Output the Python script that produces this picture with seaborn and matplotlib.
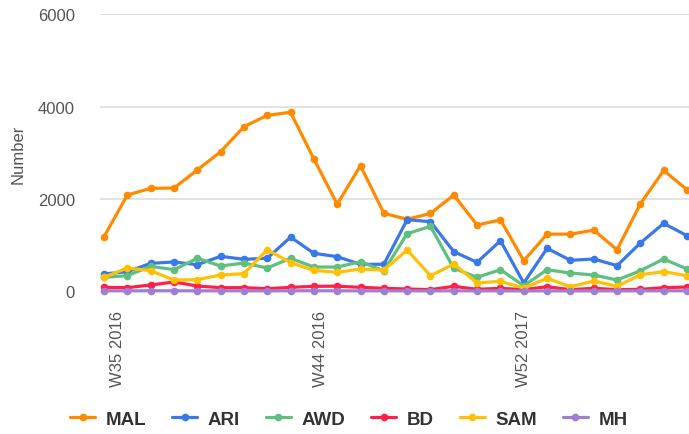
import numpy as np
import pandas as pd
import matplotlib
matplotlib.use("Agg")
import matplotlib.pyplot as plt
import seaborn as sns

# weekly points (Sundays), Aug 2016 - Feb 2017
weeks = pd.date_range("2016-08-28", periods=26, freq="7D")

mal = [1186, 2089, 2234, 2241, 2630, 3027, 3568, 3815, 3880, 2869, 1890, 2724, 1693,
       1565, 1690, 2089, 1438, 1552, 668, 1242, 1242, 1328, 905, 1898, 2620, 2204]
ari = [379, 429, 610, 639, 580, 762, 697, 719, 1178, 827, 754, 589, 589,
       1555, 1512, 862, 632, 1100, 184, 935, 675, 704, 559, 1050, 1476, 1208]
awd = [307, 342, 545, 472, 719, 552, 617, 509, 718, 530, 530, 646, 444,
       1252, 1411, 502, 307, 472, 126, 472, 400, 357, 249, 450, 704, 487]
bd = [90, 83, 141, 206, 119, 83, 83, 61, 90, 112, 115, 90, 69,
      54, 40, 112, 47, 69, 40, 104, 40, 69, 40, 47, 83, 97]
sam = [307, 509, 450, 249, 256, 357, 386, 905, 625, 458, 415, 487, 465,
       898, 342, 595, 184, 220, 76, 285, 104, 227, 112, 364, 429, 342]
mh = [15, 14, 16, 15, 14, 15, 15, 14, 15, 16, 15, 14, 15,
      14, 13, 15, 14, 14, 12, 14, 13, 14, 13, 14, 15, 15]

series = ["MAL", "ARI", "AWD", "BD", "SAM", "MH"]
colors = ["#ff8a00", "#3b78e7", "#5fbf7f", "#ff1f48", "#ffc107", "#a07ed1"]

tick_dates = pd.to_datetime(["2016-09-01", "2016-11-01", "2017-01-01"])
tick_labels = ["W35 2016", "W44 2016", "W52 2017"]

df = pd.DataFrame({"week": weeks, "MAL": mal, "ARI": ari, "AWD": awd,
                   "BD": bd, "SAM": sam, "MH": mh})
long = df.melt(id_vars="week", var_name="series", value_name="Number")

sns.set_style("white")
plt.rcParams["font.family"] = ["Liberation Sans", "DejaVu Sans"]

fig = plt.figure(figsize=(6.89, 4.35), dpi=100)
ax = fig.add_axes([100 / 689, 1 - 292.5 / 435, 589 / 689, 277.1 / 435])

sns.lineplot(data=long, x="week", y="Number", hue="series", hue_order=series,
             palette=colors, marker="o", markersize=5.5, markeredgewidth=0,
             linewidth=2.3, ax=ax, clip_on=False)

ax.set_ylim(0, 6000)
ax.set_yticks([0, 2000, 4000, 6000])
ax.set_xlim(weeks[0] - pd.Timedelta(days=1.2), weeks[-1] + pd.Timedelta(days=0.6))
ax.set_xticks(tick_dates)
ax.set_xticklabels(tick_labels, rotation=90)
ax.grid(axis="y", color="#dadada", linewidth=1.1)
ax.set_axisbelow(True)
for s in ax.spines.values():
    s.set_visible(False)
ax.tick_params(axis="y", length=0, pad=18, labelsize=12, labelcolor="#555555")
ax.tick_params(axis="x", length=10.5, width=1, color="#c8d4e3", pad=3,
               labelsize=12, labelcolor="#555555")
ax.set_xlabel("")
ax.set_ylabel("Number", fontsize=12, color="#555555", labelpad=8.5)

handles, labels = ax.get_legend_handles_labels()
ax.legend(handles, labels, loc="center", bbox_to_anchor=(0.506, 0.034),
          bbox_transform=fig.transFigure, ncol=6, frameon=False,
          handlelength=1.35, handletextpad=0.55, columnspacing=1.38,
          borderpad=0, prop={"weight": "bold", "size": 13.5})
for t in ax.get_legend().get_texts():
    t.set_color("#333333")

fig.savefig("out.png", dpi=100)
